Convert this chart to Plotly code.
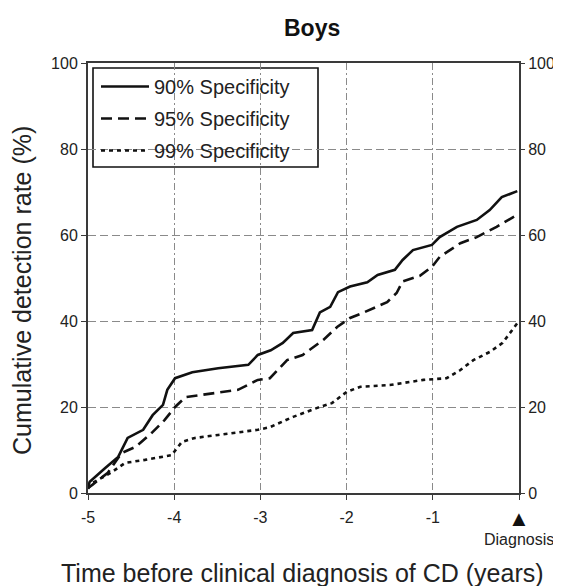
import plotly.graph_objects as go

# ---- data ----
t90 = [-5.0, -4.98, -4.80, -4.65, -4.54, -4.36, -4.25, -4.13, -4.08, -3.99, -3.79, -3.49, -3.14, -3.03,
       -2.88, -2.74, -2.62, -2.40, -2.31, -2.19, -2.10, -1.96, -1.76, -1.64, -1.44, -1.35, -1.23, -1.01,
       -0.92, -0.72, -0.49, -0.34, -0.20, -0.02]
v90 = [1.5, 2.6, 5.8, 8.4, 12.8, 14.7, 18.1, 20.5, 24.0, 26.7, 28.1, 29.0, 29.8, 32.1,
       33.2, 34.9, 37.2, 37.9, 42.0, 43.3, 46.7, 48.0, 49.0, 50.7, 51.9, 54.2, 56.5, 57.7,
       59.5, 61.9, 63.5, 65.8, 68.8, 70.2]

t95 = [-5.0, -4.95, -4.77, -4.61, -4.45, -4.26, -4.11, -3.99, -3.87, -3.56, -3.26, -3.03, -2.89, -2.69,
       -2.51, -2.27, -2.11, -1.96, -1.81, -1.53, -1.42, -1.35, -1.15, -1.01, -0.92, -0.68, -0.49, -0.26, -0.02]
v95 = [1.2, 1.9, 4.7, 9.3, 10.7, 14.0, 17.0, 20.0, 22.3, 23.2, 24.0, 26.3, 26.7, 30.9,
       32.1, 35.6, 38.6, 40.7, 41.9, 44.4, 46.5, 49.2, 50.5, 52.6, 54.9, 58.1, 59.5, 61.9, 64.7]

t99 = [-5.0, -4.95, -4.72, -4.57, -4.34, -4.03, -3.91, -3.76, -3.49, -3.03, -2.89, -2.62, -2.34, -2.17,
       -2.00, -1.84, -1.50, -1.11, -0.84, -0.68, -0.53, -0.34, -0.19, -0.02]
v99 = [1.0, 2.3, 4.9, 7.0, 7.7, 8.8, 11.9, 12.8, 13.5, 14.7, 15.3, 17.7, 19.8, 20.9,
       23.5, 24.7, 25.1, 26.3, 26.7, 28.6, 30.9, 32.8, 34.9, 39.5]

series_names = ["90% Specificity", "95% Specificity", "99% Specificity"]
x_ticks = [-5, -4, -3, -2, -1, 0]
x_tick_labels = ["-5", "-4", "-3", "-2", "-1", ""]
y_ticks = [0, 20, 40, 60, 80, 100]

FONT = "Liberation Sans, Arial, sans-serif"
TXT = "#222222"
AX = "#3a3a3a"
GRID = "#8a8a8a"

W, H = 553, 578          # page body adds an 8px offset
L, R, T, B = 80, 42, 55, 93
PW, PH = W - L - R, H - T - B

def px_x(p):  # figure px -> paper x
    return (p - L) / PW

def px_y(p):  # figure px -> paper y
    return (H - B - p) / PH

fig = go.Figure()
styles = ["solid", "11px,6px", "4px,4px"]
for i, (t, v) in enumerate([(t90, v90), (t95, v95), (t99, v99)]):
    fig.add_trace(go.Scatter(
        x=t, y=v, mode="lines", name=series_names[i], legendgroup=f"g{i}",
        line=dict(color="#111111", width=2.6, dash=styles[i]),
    ))

# invisible trace carrying the right-hand axis
fig.add_trace(go.Scatter(x=[-5], y=[0], yaxis="y2", mode="markers",
                         marker=dict(opacity=0), showlegend=False, hoverinfo="skip"))

fig.update_layout(
    width=W, height=H,
    margin=dict(l=L, r=R, t=T, b=B, autoexpand=False),
    paper_bgcolor="white", plot_bgcolor="white",
    font=dict(family=FONT, color=TXT, size=16),
    xaxis=dict(range=[-5, 0], tickvals=x_ticks, ticktext=x_tick_labels,
               showgrid=True, gridcolor=GRID, gridwidth=1.3, griddash="7px,3px,2px,3px",
               zeroline=False, showline=True, linecolor=AX, linewidth=2, mirror=True,
               ticks="outside", ticklen=5, tickcolor=AX, tickwidth=1.3, ticklabelstandoff=4,
               tickfont=dict(size=16), automargin=False),
    yaxis=dict(range=[0, 100], tickvals=y_ticks, showgrid=True, gridcolor=GRID, gridwidth=1.3,
               griddash="8px,4px", zeroline=False, showline=True, linecolor=AX, linewidth=2,
               mirror=True, ticks="outside", ticklen=5, tickcolor=AX, tickwidth=1.3,
               tickfont=dict(size=16), automargin=False),
    yaxis2=dict(range=[0, 100], tickvals=y_ticks, overlaying="y", side="right", showgrid=False,
                zeroline=False, showline=False, ticks="outside", ticklen=5, tickcolor=AX,
                tickwidth=1.3, tickfont=dict(size=16), automargin=False),
    legend=dict(x=px_x(88), y=px_y(59), xanchor="left", yanchor="top", bgcolor="rgba(0,0,0,0)",
                borderwidth=0, font=dict(size=20, color=TXT), itemwidth=48,
                tracegroupgap=3, traceorder="grouped"),
    showlegend=True,
)

# legend frame (white box over the grid)
fig.add_shape(type="rect", xref="paper", yref="paper",
              x0=px_x(85), x1=px_x(310), y0=px_y(159), y1=px_y(60),
              line=dict(color="#111111", width=1.6), fillcolor="white", layer="between")

# title and axis titles
fig.add_annotation(x=px_x(304), y=px_y(20), xref="paper", yref="paper", text="<b>Boys</b>",
                   showarrow=False, font=dict(size=23, color="#111111"),
                   xanchor="center", yanchor="middle")
fig.add_annotation(x=px_x(294), y=px_y(565), xref="paper", yref="paper",
                   text="Time before clinical diagnosis of CD (years)", showarrow=False,
                   font=dict(size=25, color=TXT), xanchor="center", yanchor="middle")
fig.add_annotation(x=px_x(14), y=px_y(283), xref="paper", yref="paper",
                   text="Cumulative detection rate (%)", showarrow=False, textangle=-90,
                   font=dict(size=25, color=TXT), xanchor="center", yanchor="middle")

# diagnosis marker
fig.add_annotation(x=0, y=px_y(511), xref="x", yref="paper", text="▲", showarrow=False,
                   font=dict(size=22, color="#111111"), yanchor="middle")
fig.add_annotation(x=0, y=px_y(531), xref="x", yref="paper", text="Diagnosis", showarrow=False,
                   font=dict(size=16, color=TXT), yanchor="middle")

fig.write_html("out.html")
